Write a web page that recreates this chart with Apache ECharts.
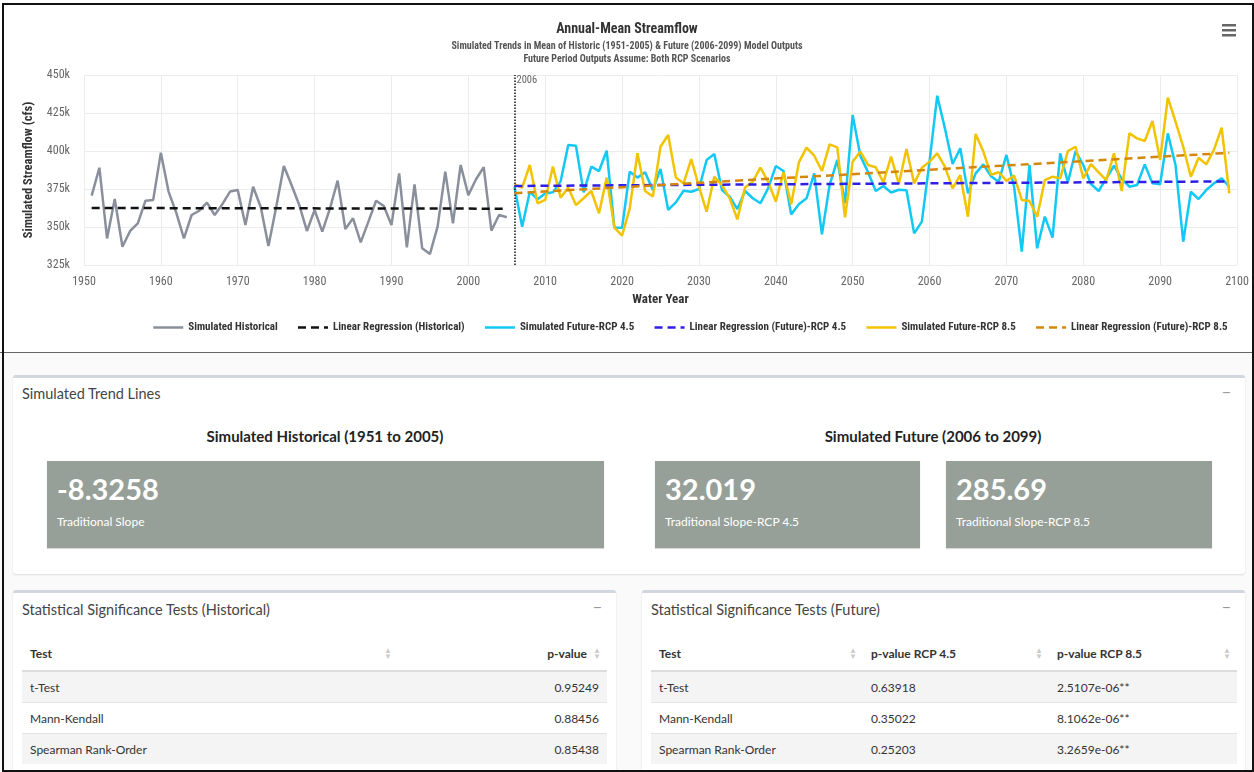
<!DOCTYPE html>
<html>
<head>
<meta charset="utf-8">
<script src="https://cdn.jsdelivr.net/npm/echarts@6/dist/echarts.min.js"></script>
<style>
  html, body { margin:0; padding:0; }
  body { width:1254px; height:772px; overflow:hidden; background:#fafafa; position:relative; font-family: Lato, "Open Sans", sans-serif; color:#333; }
  #chartWrap { position:absolute; left:0; top:0; width:1254px; height:352px; background:#fff; border-bottom:1px solid #666; }
  #chart { width:1254px; height:352px; }
  .frame { position:absolute; left:2px; top:3px; width:1248px; height:765px; border:2px solid #111; pointer-events:none; }
  .box { position:absolute; background:#fff; border-top:3px solid #d2d6de; border-radius:3px; box-shadow:0 1px 2px rgba(0,0,0,0.12); }
  .box .hdr { position:absolute; left:9px; top:7px; font-size:14.5px; color:#444; }
  .box .tool { position:absolute; right:14px; top:4px; font-size:16px; color:#999; }
  .sub { position:absolute; font-weight:bold; font-size:15px; color:#222; text-align:center; }
  .val { position:absolute; background:#97a098; color:#fff; box-shadow:0 1px 1px rgba(0,0,0,0.15); }
  .val .n { position:absolute; left:10px; top:10px; font-size:29px; font-weight:bold; }
  .val .l { position:absolute; left:10px; top:53px; font-size:12px; }
  table { position:absolute; border-collapse:collapse; font-size:12px; color:#333; }
  th { font-weight:bold; text-align:left; height:34px; border-bottom:2px solid #ddd; padding:0 8px; position:relative; }
  td { height:30px; padding:0 8px; border-top:1px solid #e4e4e4; }
  tr.odd td { background:#f4f4f4; }
  .r { text-align:right; }
  .arr { position:absolute; right:6px; top:11px; color:#ccc; font-size:8px; line-height:6px; }
</style>
</head>
<body>
<div id="chartWrap"><div id="chart"></div></div>

<div class="box" style="left:13px; top:375px; width:1232px; height:196px;">
  <div class="hdr">Simulated Trend Lines</div><div class="tool">−</div>
</div>
<div class="sub" style="left:13px; top:427px; width:624px;">Simulated Historical (1951 to 2005)</div>
<div class="sub" style="left:630px; top:427px; width:606px;">Simulated Future (2006 to 2099)</div>
<div class="val" style="left:47px; top:461px; width:557px; height:87px;"><div class="n">-8.3258</div><div class="l">Traditional Slope</div></div>
<div class="val" style="left:655px; top:461px; width:265px; height:87px;"><div class="n">32.019</div><div class="l">Traditional Slope-RCP 4.5</div></div>
<div class="val" style="left:946px; top:461px; width:266px; height:87px;"><div class="n">285.69</div><div class="l">Traditional Slope-RCP 8.5</div></div>

<div class="box" style="left:13px; top:590px; width:603px; height:182px;">
  <div class="hdr" style="top:8px;">Statistical Significance Tests (Historical)</div><div class="tool">−</div>
</div>
<table style="left:22px; top:636px; width:585px;">
  <tr><th style="width:360px">Test<span class="arr">▲<br>▼</span></th><th class="r" style="padding-right:20px">p-value<span class="arr">▲<br>▼</span></th></tr>
  <tr class="odd"><td>t-Test</td><td class="r">0.95249</td></tr>
  <tr><td>Mann-Kendall</td><td class="r">0.88456</td></tr>
  <tr class="odd"><td>Spearman Rank-Order</td><td class="r">0.85438</td></tr>
</table>

<div class="box" style="left:642px; top:590px; width:603px; height:182px;">
  <div class="hdr" style="top:8px;">Statistical Significance Tests (Future)</div><div class="tool">−</div>
</div>
<table style="left:651px; top:636px; width:586px;">
  <tr><th style="width:196px">Test<span class="arr">▲<br>▼</span></th><th style="width:170px">p-value RCP 4.5<span class="arr">▲<br>▼</span></th><th>p-value RCP 8.5<span class="arr">▲<br>▼</span></th></tr>
  <tr class="odd"><td>t-Test</td><td>0.63918</td><td>2.5107e-06**</td></tr>
  <tr><td>Mann-Kendall</td><td>0.35022</td><td>8.1062e-06**</td></tr>
  <tr class="odd"><td>Spearman Rank-Order</td><td>0.25203</td><td>3.2659e-06**</td></tr>
</table>

<div class="frame"></div>

<script>
// ---- data (streamflow in thousand cfs) ----
const histStartYear = 1951;
const futureStartYear = 2006;
const simulatedHistorical = [370.6,389.0,342.5,368.4,337.0,347.4,352.4,367.3,367.8,398.9,
  373.3,359.5,342.5,357.9,360.7,366.0,357.9,365.0,373.3,374.3,
  351.3,376.5,363.0,337.5,363.0,390.1,377.6,364.5,347.4,361.2,
  347.0,362.3,380.5,348.7,355.7,339.9,353.5,367.3,363.8,351.3,
  385.3,336.6,378.1,336.0,332.2,350.2,386.4,352.4,390.8,371.0,
  381.4,389.3,347.6,357.9,356.4];
const simulatedRCP45 = [376.5,350.2,373.2,368.2,372.1,372.8,380.0,403.9,403.5,372.8,
  389.7,386.8,400.2,349.5,349.5,386.4,382.5,386.0,374.3,388.2,
  361.2,366.2,373.9,373.2,375.0,394.1,398.0,374.3,369.9,361.8,
  373.7,368.9,365.6,375.4,390.1,386.8,358.3,364.9,368.9,385.3,
  345.2,377.6,394.1,365.6,423.7,396.8,386.0,373.7,377.0,372.7,
  374.5,374.2,345.8,353.5,393.0,436.4,414.9,391.4,401.8,372.1,
  385.3,391.2,383.4,379.8,397.4,376.5,333.8,390.8,336.0,356.8,
  343.0,398.5,379.4,400.0,390.8,378.3,373.7,382.0,390.3,381.6,
  376.5,377.6,391.2,378.7,378.1,411.6,390.8,340.3,373.2,368.4,
  374.3,378.7,382.0,376.5];
const simulatedRCP85 = [378.1,375.9,390.8,365.6,367.8,389.7,369.3,375.9,364.5,368.9,
  373.7,359.0,382.5,349.6,344.3,362.3,398.5,373.7,370.0,402.8,
  410.5,382.5,378.7,394.7,376.5,360.1,383.1,377.6,368.9,355.0,
  376.0,379.8,389.0,379.8,366.7,386.0,364.9,392.5,402.2,396.9,
  386.8,404.4,402.4,356.4,393.0,399.6,390.8,389.3,379.4,396.3,
  378.3,401.3,378.7,389.0,393.0,398.5,389.7,375.4,384.2,356.8,
  411.2,399.6,384.4,386.0,380.3,383.8,367.8,367.1,356.8,380.9,
  383.1,382.0,400.0,402.8,382.0,391.4,386.0,380.9,398.5,373.7,
  411.6,408.3,406.6,419.7,394.1,435.1,419.3,402.8,383.1,395.6,
  391.2,400.7,415.3,372.1];
// regression line end points [year, value]
const regHistorical = [[1951, 362.5], [2005, 362.05]];
const regRCP45 = [[2006, 377.0], [2099, 380.0]];
const regRCP85 = [[2006, 372.2], [2099, 398.8]];
const yTicks = { min: 325, max: 450, step: 25 };
const xTicks = { min: 1950, max: 2100, step: 10 };
const markYear = 2006;

const toPairs = (start, arr) => arr.map((v, i) => [start + i, v]);

const FONT = "'Roboto Condensed','Liberation Sans Narrow','DejaVu Sans Condensed',Roboto,sans-serif";
const chart = echarts.init(document.getElementById('chart'));
const lineW = 2.5;
const dash = [8, 5];
chart.setOption({
  animation: false,
  textStyle: { fontFamily: FONT },
  title: {
    left: 'center', top: 17,
    text: 'Annual-Mean Streamflow',
    subtext: 'Simulated Trends in Mean of Historic (1951-2005) & Future (2006-2099) Model Outputs\nFuture Period Outputs Assume: Both RCP Scenarios',
    textStyle: { fontFamily: FONT, fontSize: 14, fontWeight: 'bold', color: '#333' },
    subtextStyle: { fontFamily: FONT, fontSize: 10, fontWeight: 'bold', color: '#555', lineHeight: 13 },
    itemGap: 4
  },
  graphic: [
    { type: 'group', right: 18, top: 24, children: [
      { type: 'rect', shape: { x: 0, y: 0, width: 14, height: 2.5 }, style: { fill: '#666' } },
      { type: 'rect', shape: { x: 0, y: 5, width: 14, height: 2.5 }, style: { fill: '#666' } },
      { type: 'rect', shape: { x: 0, y: 10, width: 14, height: 2.5 }, style: { fill: '#666' } }
    ]}
  ],
  grid: { left: 84, right: 17, top: 75, bottom: 87 },
  legend: {
    left: 147, top: 317, itemWidth: 30, itemHeight: 10, itemGap: 19,
    itemStyle: { opacity: 0 },
    lineStyle: { width: 2.5 },
    textStyle: { fontFamily: FONT, fontSize: 11, fontWeight: 'bold', color: '#333' },
    data: ['Simulated Historical', 'Linear Regression (Historical)', 'Simulated Future-RCP 4.5',
           'Linear Regression (Future)-RCP 4.5', 'Simulated Future-RCP 8.5', 'Linear Regression (Future)-RCP 8.5']
  },
  xAxis: {
    type: 'value', min: xTicks.min, max: xTicks.max, interval: xTicks.step,
    name: 'Water Year', nameLocation: 'middle', nameGap: 28,
    nameTextStyle: { fontFamily: FONT, fontSize: 13, fontWeight: 'bold', color: '#333' },
    axisLine: { show: false }, axisTick: { show: false },
    axisLabel: { color: '#666', fontSize: 12, margin: 11, fontFamily: FONT, formatter: v => String(v) },
    splitLine: { show: true, lineStyle: { color: '#ececec' } }
  },
  yAxis: {
    type: 'value', min: yTicks.min, max: yTicks.max, interval: yTicks.step,
    name: 'Simulated Streamflow (cfs)', nameLocation: 'middle', nameGap: 49,
    nameTextStyle: { fontFamily: FONT, fontSize: 12.5, fontWeight: 'bold', color: '#333' },
    axisLine: { show: false }, axisTick: { show: false },
    axisLabel: { color: '#666', fontSize: 12, margin: 14, fontFamily: FONT, formatter: v => v + 'k' },
    splitLine: { show: true, lineStyle: { color: '#ececec' } }
  },
  series: [
    { name: 'Simulated Historical', type: 'line', symbol: 'none', data: toPairs(histStartYear, simulatedHistorical),
      itemStyle: { color: '#8a8f9c' }, lineStyle: { width: lineW, color: '#8a8f9c' }, z: 3,
      markLine: { silent: true, symbol: 'none', lineStyle: { color: '#111', type: 'dotted', width: 1.5 },
        label: { show: false }, data: [{ xAxis: markYear }] },
      markPoint: { symbol: 'circle', symbolSize: 0, data: [{ coord: [markYear, yTicks.max] }],
        label: { show: true, position: 'right', distance: 2, offset: [0, 5], formatter: String(markYear), color: '#666', fontSize: 10.5, fontFamily: FONT } }
    },
    { name: 'Linear Regression (Historical)', type: 'line', symbol: 'none', data: regHistorical,
      itemStyle: { color: '#111' }, lineStyle: { width: lineW, type: dash, color: '#111' }, z: 4 },
    { name: 'Simulated Future-RCP 4.5', type: 'line', symbol: 'none', data: toPairs(futureStartYear, simulatedRCP45),
      itemStyle: { color: '#12c8f5' }, lineStyle: { width: lineW, color: '#12c8f5' }, z: 3 },
    { name: 'Linear Regression (Future)-RCP 4.5', type: 'line', symbol: 'none', data: regRCP45,
      itemStyle: { color: '#2f1ee6' }, lineStyle: { width: lineW, type: dash, color: '#2f1ee6' }, z: 5 },
    { name: 'Simulated Future-RCP 8.5', type: 'line', symbol: 'none', data: toPairs(futureStartYear, simulatedRCP85),
      itemStyle: { color: '#f2c300' }, lineStyle: { width: lineW, color: '#f2c300' }, z: 4 },
    { name: 'Linear Regression (Future)-RCP 8.5', type: 'line', symbol: 'none', data: regRCP85,
      itemStyle: { color: '#d4870c' }, lineStyle: { width: lineW, type: dash, color: '#d4870c' }, z: 5 }
  ]
});
</script>
</body>
</html>
